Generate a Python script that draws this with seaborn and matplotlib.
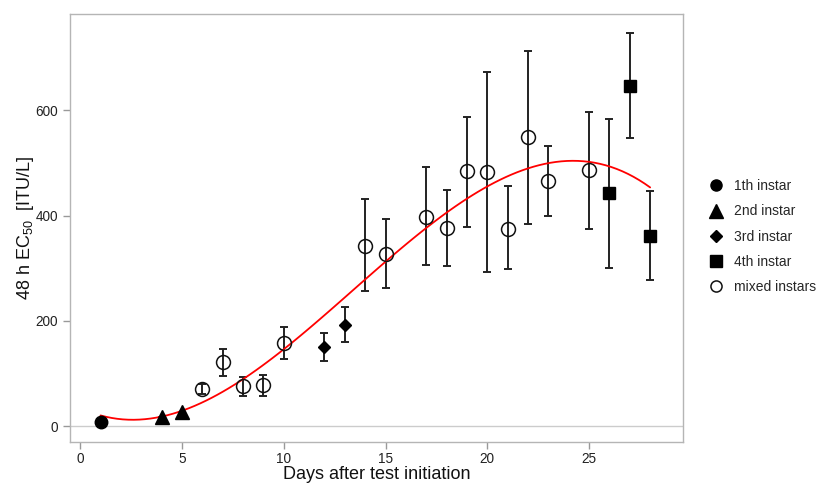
import numpy as np
import pandas as pd
import matplotlib
matplotlib.use('Agg')
import matplotlib.pyplot as plt
from matplotlib.lines import Line2D
import seaborn as sns

# values
days   = [1, 4, 5, 6, 7, 8, 9, 10, 12, 13, 14, 15, 17, 18, 19, 20, 21, 22, 23, 25, 26, 27, 28]
ec50   = [8, 17, 26, 70, 121, 76, 78, 158, 150, 193, 343, 327, 398, 376, 484, 482, 375, 550, 466, 487, 443, 647, 361]
err_hi = [8, 17, 26, 80, 146, 93, 97, 188, 176, 227, 431, 393, 493, 449, 587, 672, 456, 713, 532, 597, 584, 747, 446]
err_lo = [8, 17, 26, 61, 96, 57, 57, 128, 124, 160, 257, 263, 306, 305, 378, 293, 298, 384, 399, 375, 301, 548, 278]
stage  = ['1th instar', '2nd instar', '2nd instar', 'mixed instars', 'mixed instars', 'mixed instars',
          'mixed instars', 'mixed instars', '3rd instar', '3rd instar', 'mixed instars', 'mixed instars',
          'mixed instars', 'mixed instars', 'mixed instars', 'mixed instars', 'mixed instars', 'mixed instars',
          'mixed instars', 'mixed instars', '4th instar', '4th instar', '4th instar']

stage_order = ['1th instar', '2nd instar', '3rd instar', '4th instar', 'mixed instars']
markers = {'1th instar': 'o', '2nd instar': '^', '3rd instar': 'D', '4th instar': 's', 'mixed instars': 'o'}
msize = {'1th instar': 9, '2nd instar': 10, '3rd instar': 6, '4th instar': 9, 'mixed instars': 10}
leg_size = {'1th instar': 8, '2nd instar': 10.5, '3rd instar': 6, '4th instar': 9, 'mixed instars': 8}

df = pd.DataFrame({'day': days, 'ec50': ec50, 'hi': err_hi, 'lo': err_lo, 'stage': stage})

sns.set_style('white')
plt.rcParams['font.family'] = ['Liberation Sans', 'DejaVu Sans']
plt.rcParams['mathtext.default'] = 'regular'

fig = plt.figure(figsize=(8.18, 4.84), dpi=100)
ax = fig.add_axes([0.0856, 0.087, 0.749, 0.884])

ax.axhline(0, color='#cccccc', lw=1, zorder=0)

yerr = np.array([df['ec50'] - df['lo'], df['hi'] - df['ec50']])
ax.errorbar(df['day'], df['ec50'], yerr=yerr, fmt='none', ecolor='#222222',
            elinewidth=1.4, capsize=3, capthick=1.4, zorder=2)

# fitted cubic trend line
sns.regplot(data=df, x='day', y='ec50', order=3, ci=None, scatter=False,
            line_kws={'color': 'red', 'lw': 1.3, 'zorder': 3}, ax=ax)

handles = []
for st in stage_order:
    sub = df[df['stage'] == st]
    if st == 'mixed instars':
        ax.plot(sub['day'], sub['ec50'], linestyle='none', marker='o', ms=msize[st],
                mfc='none', mec='#111111', mew=1.1, zorder=4)
        h = Line2D([], [], linestyle='none', marker='o', ms=leg_size[st], mfc='none',
                   mec='#111111', mew=1.1)
    else:
        ax.plot(sub['day'], sub['ec50'], linestyle='none', marker=markers[st], ms=msize[st],
                color='black', zorder=4)
        h = Line2D([], [], linestyle='none', marker=markers[st], ms=leg_size[st], color='black')
    handles.append(h)

ax.set_xlim(-0.5, 29.6)
ax.set_ylim(-30, 783)
ax.set_xticks([0, 5, 10, 15, 20, 25])
ax.set_yticks([0, 200, 400, 600])
ax.tick_params(axis='both', direction='out', length=5, width=1, color='#999999',
               labelsize=9.8, labelcolor='#222222', bottom=True, left=True)
ax.tick_params(axis='x', pad=2.5)
for sp in ax.spines.values():
    sp.set_color('#b5b5b5')
    sp.set_linewidth(1)

ax.set_xlabel('Days after test initiation', fontsize=13, labelpad=0, color='#111111')
ax.set_ylabel('48 h EC$_{50}$  [ITU/L]', fontsize=13, labelpad=-0.5, color='#111111')

ax.legend(handles, stage_order, loc='center left', bbox_to_anchor=(1.02, 0.48), frameon=False,
          fontsize=10, handletextpad=0.7, labelspacing=0.8, handlelength=1.2)

fig.savefig('out.png', dpi=100)
